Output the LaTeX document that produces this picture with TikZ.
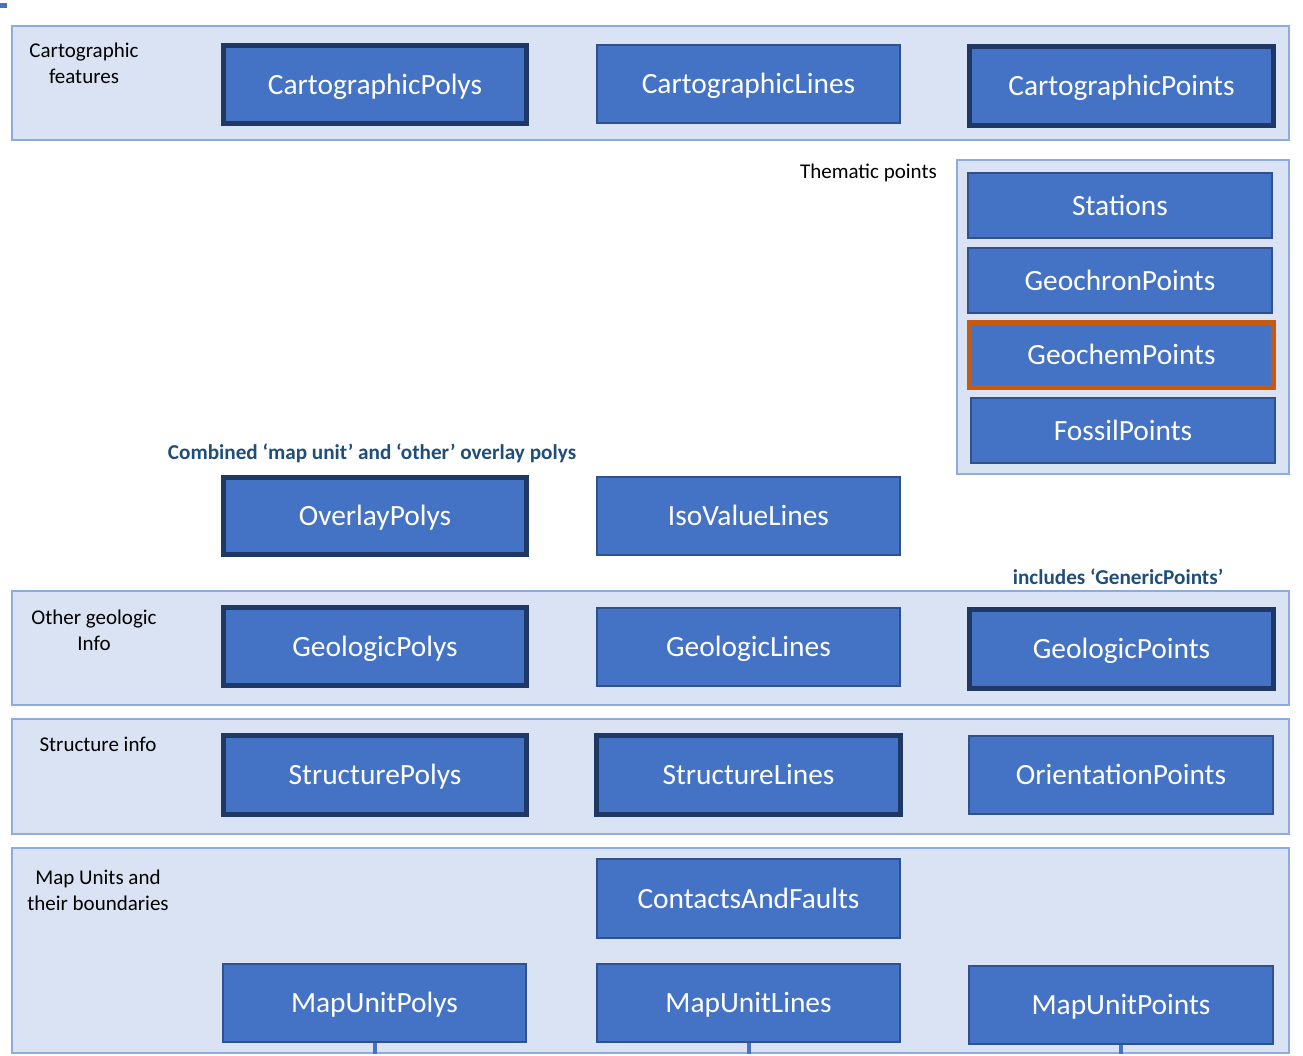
\documentclass[tikz,border=0pt]{standalone}
\usepackage{fontspec}
\setmainfont{Carlito}
\definecolor{boxfill}{HTML}{4472C4}
\definecolor{thickb}{HTML}{203864}
\definecolor{thinb}{HTML}{2F528F}
\definecolor{bandfill}{HTML}{DAE3F3}
\definecolor{bandline}{HTML}{8FAADC}
\definecolor{orangeb}{HTML}{C55A11}
\definecolor{notecol}{HTML}{1F4E79}
\tikzset{
  box/.style={fill=boxfill, text=white, inner sep=0pt, text height=19pt, text depth=0pt, font=\fontsize{29.4}{34}\selectfont},
  thinbox/.style={box, draw=thinb, line width=2pt},
  thickbox/.style={box, draw=thickb, line width=5pt},
  orangebox/.style={box, draw=orangeb, line width=5pt},
  band/.style={fill=bandfill, draw=bandline, line width=2.5pt, inner sep=0pt},
  lbl/.style={font=\fontsize{21}{26}\selectfont, align=center, inner sep=0pt},
  note/.style={font=\fontsize{21.2}{26}\selectfont\bfseries, text=notecol, inner sep=0pt},
  stub/.style={draw=boxfill, line width=4pt},
}
\newcommand{\bandnode}[5]{\node[band, minimum width=#4-#2, minimum height=#5-#3] (#1) at ({(#2+#4)/2},{(#3+#5)/2}) {};}
\begin{document}
\begin{tikzpicture}[x=1pt,y=-1pt]
\useasboundingbox (0,0) rectangle (1303,1055);
\fill[boxfill] (0,3) rectangle (7,8);
% bands
\bandnode{band1}{12}{26}{1289}{140}
\bandnode{themband}{957}{160}{1289}{474}
\bandnode{geoband}{12}{591}{1289}{705}
\bandnode{strband}{12}{719}{1289}{834}
\bandnode{mapband}{12}{848}{1289}{1053}
% labels
\node[lbl] (l1) at (84,63) {Cartographic\\features};
\node[lbl, anchor=east] (l2) at (937,173) {Thematic points};
\node[lbl] (l3) at (94,630) {Other geologic\\Info};
\node[lbl] (l4) at (98,744) {Structure info};
\node[lbl] (l5) at (98,890) {Map Units and\\their boundaries};
\node[note] (n1) at (372,453) {Combined ‘map unit’ and ‘other’ overlay polys};
\node[note] (n2) at (1118,577) {includes ‘GenericPoints’};
% row 1
\node[thickbox, minimum width=303, minimum height=78] (cpolys) at (375,84.5) {CartographicPolys};
\node[thinbox, minimum width=303, minimum height=78] (clines) at (748.5,84) {CartographicLines};
\node[thickbox, minimum width=304, minimum height=79] (cpoints) at (1121.5,86) {CartographicPoints};
% thematic
\node[thinbox, minimum width=304, minimum height=65] (stations) at (1120,205.5) {Stations};
\node[thinbox, minimum width=304, minimum height=65] (gchron) at (1120,280.5) {GeochronPoints};
\node[orangebox, minimum width=304, minimum height=65] (gchem) at (1121.5,355) {GeochemPoints};
\node[thinbox, minimum width=304, minimum height=65] (fossil) at (1123,430.5) {FossilPoints};
% overlay
\node[thickbox, minimum width=303, minimum height=77] (overlay) at (375,516) {OverlayPolys};
\node[thinbox, minimum width=303, minimum height=78] (iso) at (748.5,516) {IsoValueLines};
% geologic
\node[thickbox, minimum width=303, minimum height=78] (gpolys) at (375,646.5) {GeologicPolys};
\node[thinbox, minimum width=303, minimum height=78] (glines) at (748.5,647) {GeologicLines};
\node[thickbox, minimum width=304, minimum height=79] (gpoints) at (1121.5,649) {GeologicPoints};
% structure
\node[thickbox, minimum width=303, minimum height=79] (spolys) at (375,775) {StructurePolys};
\node[thickbox, minimum width=304, minimum height=79] (slines) at (748.5,775) {StructureLines};
\node[thinbox, minimum width=304, minimum height=78] (opoints) at (1121,775) {OrientationPoints};
% map units
\node[thinbox, minimum width=303, minimum height=79] (caf) at (748.5,898.5) {ContactsAndFaults};
\node[thinbox, minimum width=303, minimum height=78] (mupolys) at (374.5,1003) {MapUnitPolys};
\node[thinbox, minimum width=303, minimum height=78] (mulines) at (748.5,1003) {MapUnitLines};
\node[thinbox, minimum width=304, minimum height=78] (mupoints) at (1121,1005) {MapUnitPoints};
% stubs
\draw[stub] (mupolys.south) -- (mupolys.south |- mapband.south);
\draw[stub] (mulines.south) -- (mulines.south |- mapband.south);
\draw[stub] (mupoints.south) -- (mupoints.south |- mapband.south);
\end{tikzpicture}
\end{document}
